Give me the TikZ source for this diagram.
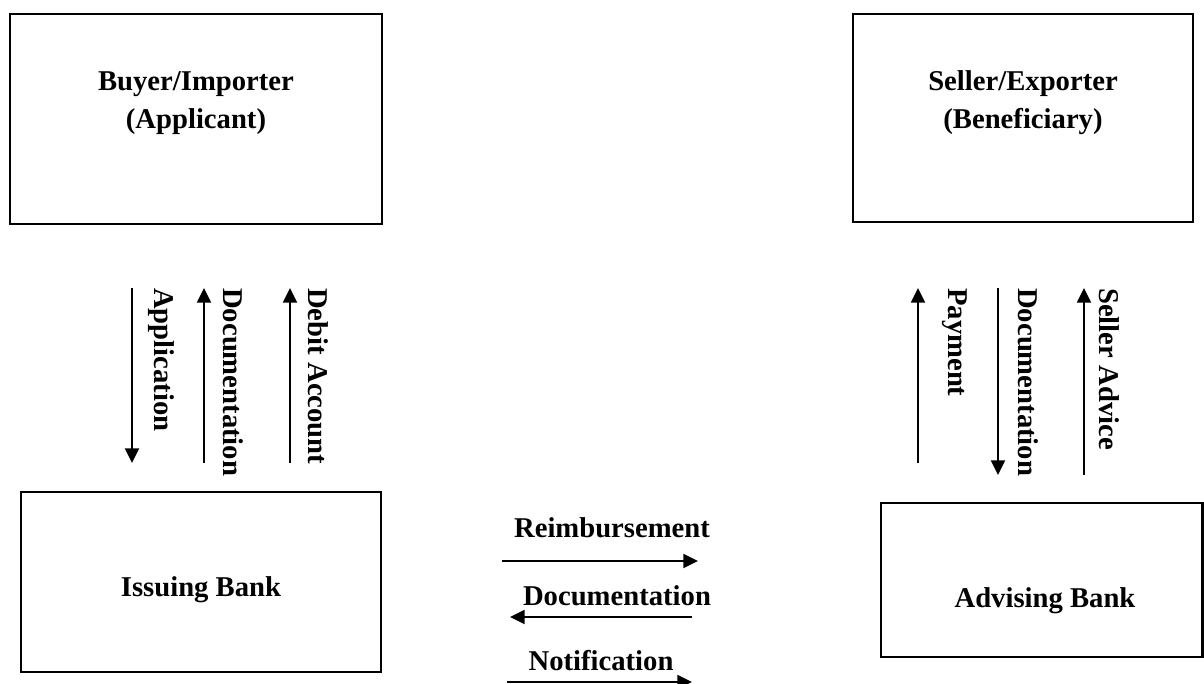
\documentclass[tikz,border=0pt]{standalone}
\usepackage{fontspec}
\setmainfont{Liberation Serif}
\usetikzlibrary{arrows.meta}
\begin{document}
\begin{tikzpicture}[x=0.75pt,y=-0.75pt,
  party/.style={draw, line width=1.7pt, rectangle, inner sep=0pt},
  lbl/.style={font=\fontsize{21.5}{26}\selectfont\bfseries, inner sep=0pt, anchor=base},
  vlbl/.style={font=\fontsize{21.5}{26}\selectfont\bfseries, inner sep=0pt, rotate=-90, anchor=west},
  flow/.style={line width=1.4pt, -{Triangle[length=11pt,width=10.5pt]}}]
\useasboundingbox (0,0) rectangle (1204,684);

% parties
\node[party, minimum width=279pt, minimum height=157.5pt] (buyer) at (196,119) {};
\node[party, minimum width=255pt, minimum height=156pt] (seller) at (1023,118) {};
\node[party, minimum width=270pt, minimum height=135pt] (issuing) at (201,582) {};
\node[party, minimum width=241.1pt, minimum height=115.5pt] (advising) at (1041.75,580) {};

\node[lbl] (buyerA) at (196,91) {Buyer/Importer};
\node[lbl] (buyerB) at (196,129) {(Applicant)};
\node[lbl] (sellerA) at (1023,91) {Seller/Exporter};
\node[lbl] (sellerB) at (1023,129) {(Beneficiary)};
\node[lbl] (issuingL) at (201,596) {Issuing Bank};
\node[lbl] (advisingL) at (1045,607) {Advising Bank};

% buyer <-> issuing bank
\coordinate (appS) at (132,288);  \coordinate (appE) at (132,463);
\coordinate (docS) at (204,463);  \coordinate (docE) at (204,288);
\coordinate (debS) at (290,463);  \coordinate (debE) at (290,288);
\draw[flow] (appS) -- (appE);
\draw[flow] (docS) -- (docE);
\draw[flow] (debS) -- (debE);
\node[vlbl] (appL) at (161,288) {Application};
\node[vlbl] (docL) at (233,288) {Documentation};
\node[vlbl] (debL) at (318,288) {Debit Account};

% seller <-> advising bank
\coordinate (payS) at (918,463);   \coordinate (payE) at (918,288);
\coordinate (sdocS) at (998,288);  \coordinate (sdocE) at (998,475);
\coordinate (advS) at (1084,475);  \coordinate (advE) at (1084,288);
\draw[flow] (payS) -- (payE);
\draw[flow] (sdocS) -- (sdocE);
\draw[flow] (advS) -- (advE);
\node[vlbl] (payL) at (955,288) {Payment};
\node[vlbl] (sdocL) at (1028,288) {Documentation};
\node[vlbl] (advL) at (1109,288) {Seller Advice};

% issuing bank <-> advising bank
\coordinate (reiS) at (502,561);  \coordinate (reiE) at (698,561);
\coordinate (bdocS) at (692,617); \coordinate (bdocE) at (510,617);
\coordinate (notS) at (507,682);  \coordinate (notE) at (692,682);
\draw[flow] (reiS) -- (reiE);
\draw[flow] (bdocS) -- (bdocE);
\draw[flow] (notS) -- (notE);
\node[lbl] (reiL) at (612,537) {Reimbursement};
\node[lbl] (bdocL) at (617,605) {Documentation};
\node[lbl] (notL) at (601,670) {Notification};
\end{tikzpicture}
\end{document}
